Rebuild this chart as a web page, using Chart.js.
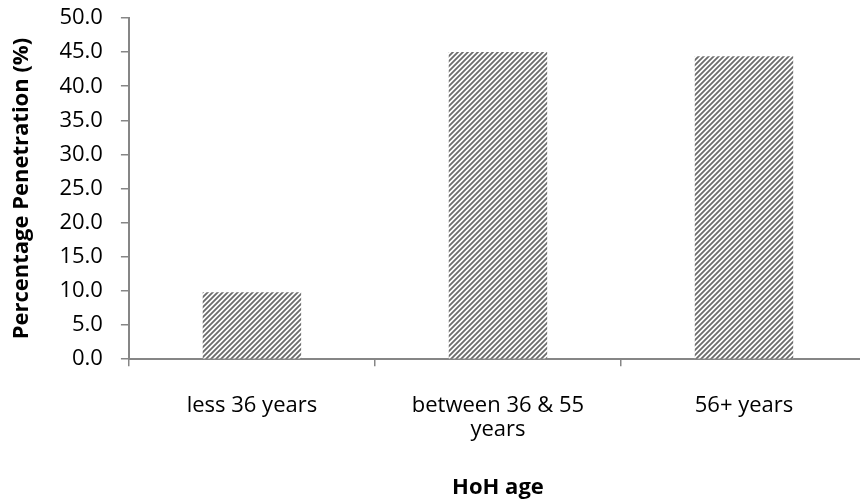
<!DOCTYPE html>
<html>
<head>
<meta charset="utf-8">
<script src="https://cdn.jsdelivr.net/npm/chart.js@4"></script>
<style>
  html, body { margin: 0; padding: 0; background: #fff; overflow: hidden; }
  #wrap { width: 860px; height: 501px; overflow: hidden; }
</style>
</head>
<body>
<div id="wrap"><canvas id="chart" width="867" height="501"></canvas></div>
<script>
const categories = ['less 36 years', ['between 36 & 55', 'years'], '56+ years'];
const penetration = [9.8, 45.0, 44.4];
const yTitle = 'Percentage Penetration (%)';
const xTitle = 'HoH age';

// diagonal hatch like the Excel pattern fill
function hatch() {
    const c = document.createElement('canvas');
    c.width = 5; c.height = 5;
    const g = c.getContext('2d');
    g.fillStyle = '#ffffff';
    g.fillRect(0, 0, 5, 5);
    g.strokeStyle = '#6b6b6b';
    g.lineWidth = 1.8;
    g.beginPath();
    g.moveTo(-1, 6); g.lineTo(6, -1);
    g.moveTo(-1, 1); g.lineTo(1, -1);
    g.moveTo(4, 6); g.lineTo(6, 4);
    g.stroke();
    return g.createPattern(c, 'repeat');
}

const ctx = document.getElementById('chart').getContext('2d');
const font = "'Open Sans', 'Liberation Sans', sans-serif";

new Chart(ctx, {
    type: 'bar',
    data: {
        labels: categories,
        datasets: [{
            data: penetration,
            backgroundColor: hatch(),
            borderWidth: 0,
            categoryPercentage: 1,
            barPercentage: 0.4
        }]
    },
    options: {
        responsive: false,
        animation: false,
        layout: { padding: { left: 9, right: 0, top: 0, bottom: 0 } },
        plugins: { legend: { display: false }, tooltip: { enabled: false } },
        scales: {
            x: {
                grid: { offset: true, drawOnChartArea: false, tickLength: 7, color: '#868686', lineWidth: 1.5 },
                border: { color: '#868686', width: 2 },
                ticks: { color: '#000', font: { family: font, size: 22, lineHeight: 1.1 }, padding: 27, maxRotation: 0, autoSkip: false },
                title: { display: true, text: xTitle, color: '#000', font: { family: font, size: 22, weight: 'bold' }, padding: { top: 6, bottom: 0 } }
            },
            y: {
                min: 0, max: 50,
                grid: { drawOnChartArea: false, tickLength: 8, color: '#868686', lineWidth: 1.5 },
                border: { color: '#868686', width: 2 },
                ticks: {
                    stepSize: 5, color: '#000', padding: 18,
                    font: { family: font, size: 22 },
                    callback: v => v.toFixed(1)
                },
                title: { display: true, text: yTitle, color: '#000', font: { family: font, size: 22, weight: 'bold' }, padding: { top: 0, bottom: 6 } },
                // tick padding is also added above the axis; keep the top where Excel has it
                afterFit: s => { s.paddingTop = 18; }
            }
        }
    }
});
</script>
</body>
</html>
